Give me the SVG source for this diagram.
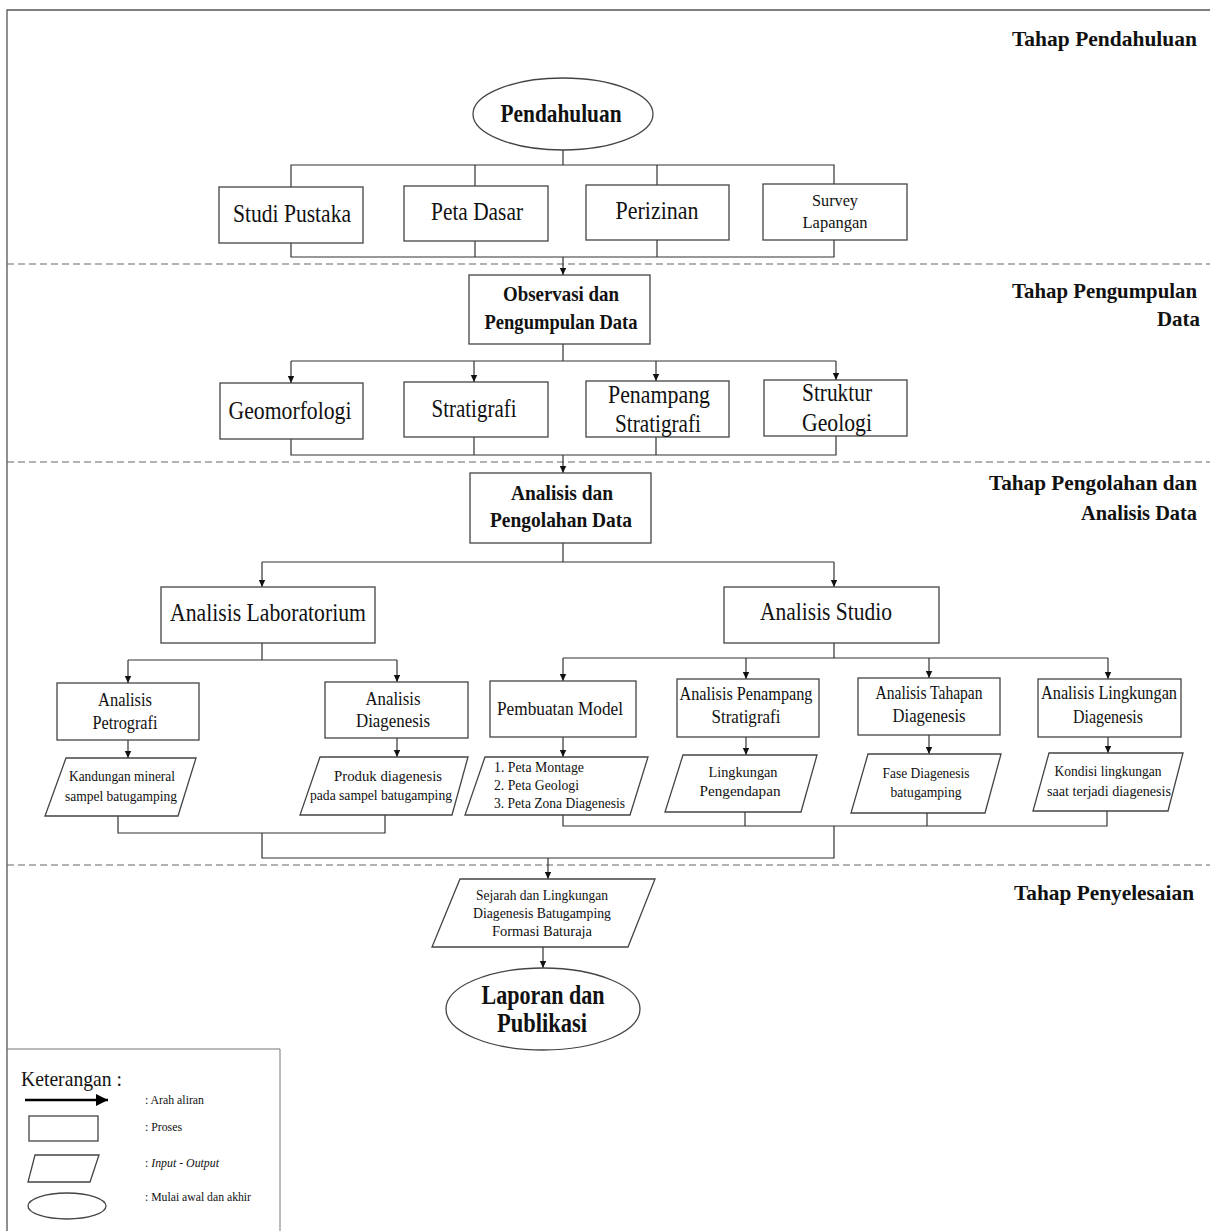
<svg xmlns="http://www.w3.org/2000/svg" width="1210" height="1231" viewBox="0 0 1210 1231">
<defs>
<style>
.bx{fill:#fff;stroke:#444;stroke-width:1.3}
.ln{fill:none;stroke:#333;stroke-width:1.2}
.ar{fill:none;stroke:#333;stroke-width:1.2;marker-end:url(#ah)}
.dash{fill:none;stroke:#666;stroke-width:1.2;stroke-dasharray:7 4}
text{font-family:"Liberation Serif","Times New Roman",serif;fill:#111;text-anchor:middle}
.b{font-weight:bold}
.st{font-weight:bold;font-size:22px;text-anchor:end}
.t24{font-size:25px}
.t19{font-size:19px}
.t17{font-size:17px}
.t14{font-size:14px}
.t12{font-size:12px;text-anchor:start}
</style>
<marker id="ah" markerWidth="8" markerHeight="8" refX="7" refY="4" orient="auto" markerUnits="userSpaceOnUse">
<path d="M0,0.8 L7,4 L0,7.2 Z" fill="#111"/>
</marker>
<marker id="ahL" markerWidth="14" markerHeight="14" refX="12" refY="7" orient="auto" markerUnits="userSpaceOnUse">
<path d="M0,1 L12,7 L0,13 Z" fill="#000"/>
</marker>
</defs>
<rect width="1210" height="1231" fill="#fff"/>
<!-- frame -->
<path d="M7,1231 V10 H1210" fill="none" stroke="#555" stroke-width="1.3"/>
<!-- dashed stage separators -->
<g id="separators">
<line class="dash" x1="7" y1="264" x2="1210" y2="264"/>
<line class="dash" x1="7" y1="462" x2="1210" y2="462"/>
<line class="dash" x1="7" y1="865" x2="1210" y2="865"/>
</g>
<!-- stage labels -->
<g id="stages">
<text class="st" x="1197" y="46" textLength="185" lengthAdjust="spacingAndGlyphs">Tahap Pendahuluan</text>
<text class="st" x="1197" y="298" textLength="185" lengthAdjust="spacingAndGlyphs">Tahap Pengumpulan</text>
<text class="st" x="1200" y="326" textLength="43" lengthAdjust="spacingAndGlyphs">Data</text>
<text class="st" x="1197" y="490" textLength="208" lengthAdjust="spacingAndGlyphs">Tahap Pengolahan dan</text>
<text class="st" x="1197" y="520" textLength="116" lengthAdjust="spacingAndGlyphs">Analisis Data</text>
<text class="st" x="1194" y="900" textLength="180" lengthAdjust="spacingAndGlyphs">Tahap Penyelesaian</text>
</g>
<!-- connectors -->
<g id="connectors">
<path class="ln" d="M563,150 V165 M291,187 V165 H834 V184 M475,165 V186 M657,165 V185"/>
<path class="ln" d="M291,243 V257 H834 V240 M475,241 V257 M657,240 V257"/>
<path class="ar" d="M563,257 V275"/>
<path class="ln" d="M563,344 V361 M291,361 H836"/>
<path class="ar" d="M291,361 V383"/>
<path class="ar" d="M474,361 V382"/>
<path class="ar" d="M656,361 V381"/>
<path class="ar" d="M836,361 V380"/>
<path class="ln" d="M291,439 V455 H836 V436 M474,437 V455 M656,437 V455"/>
<path class="ar" d="M563,455 V473"/>
<path class="ln" d="M563,543 V562 M262,562 H834"/>
<path class="ar" d="M262,562 V587"/>
<path class="ar" d="M834,562 V587"/>
<path class="ln" d="M262,643 V660 M128,660 H397"/>
<path class="ar" d="M128,660 V683"/>
<path class="ar" d="M397,660 V682"/>
<path class="ln" d="M834,643 V658 M563,658 H1108"/>
<path class="ar" d="M563,658 V681"/>
<path class="ar" d="M746,658 V679"/>
<path class="ar" d="M929,658 V678"/>
<path class="ar" d="M1108,658 V679"/>
<path class="ar" d="M128,740 V758"/>
<path class="ar" d="M397,738 V757"/>
<path class="ar" d="M563,737 V757"/>
<path class="ar" d="M746,737 V755"/>
<path class="ar" d="M929,735 V754"/>
<path class="ar" d="M1108,737 V753"/>
<path class="ln" d="M118,816 V833 H385 V815 M262,833 V858 H834 V826"/>
<path class="ln" d="M563,815 V826 H1107 V811 M745,812 V826 M927,813 V826"/>
<path class="ar" d="M548,858 V879"/>
<path class="ar" d="M543,947 V968"/>
</g>
<!-- nodes -->
<g id="pendahuluan">
<ellipse class="bx" cx="563" cy="114" rx="90" ry="36"/>
<text class="b" x="561" y="122" font-size="26" textLength="121" lengthAdjust="spacingAndGlyphs">Pendahuluan</text>
</g>
<g id="studi-pustaka">
<rect class="bx" x="219" y="187" width="144" height="56"/>
<text class="t24" x="292" y="222" textLength="118" lengthAdjust="spacingAndGlyphs">Studi Pustaka</text>
</g>
<g id="peta-dasar">
<rect class="bx" x="404" y="186" width="144" height="55"/>
<text class="t24" x="477" y="220" textLength="92" lengthAdjust="spacingAndGlyphs">Peta Dasar</text>
</g>
<g id="perizinan">
<rect class="bx" x="586" y="185" width="143" height="55"/>
<text class="t24" x="657" y="219" textLength="83" lengthAdjust="spacingAndGlyphs">Perizinan</text>
</g>
<g id="survey-lapangan">
<rect class="bx" x="763" y="184" width="144" height="56"/>
<text class="t17" x="835" y="206" textLength="46" lengthAdjust="spacingAndGlyphs">Survey</text>
<text class="t17" x="835" y="228" textLength="65" lengthAdjust="spacingAndGlyphs">Lapangan</text>
</g>
<g id="observasi">
<rect class="bx" x="469" y="275" width="181" height="69"/>
<text class="b" font-size="22" x="561" y="301" textLength="116" lengthAdjust="spacingAndGlyphs">Observasi dan</text>
<text class="b" font-size="22" x="561" y="329" textLength="153" lengthAdjust="spacingAndGlyphs">Pengumpulan Data</text>
</g>
<g id="geomorfologi">
<rect class="bx" x="220" y="383" width="143" height="56"/>
<text class="t24" x="290" y="419" textLength="123" lengthAdjust="spacingAndGlyphs">Geomorfologi</text>
</g>
<g id="stratigrafi">
<rect class="bx" x="404" y="382" width="144" height="55"/>
<text class="t24" x="474" y="417" textLength="85" lengthAdjust="spacingAndGlyphs">Stratigrafi</text>
</g>
<g id="penampang-stratigrafi">
<rect class="bx" x="586" y="381" width="143" height="56"/>
<text class="t24" x="659" y="403" textLength="102" lengthAdjust="spacingAndGlyphs">Penampang</text>
<text class="t24" x="658" y="432" textLength="86" lengthAdjust="spacingAndGlyphs">Stratigrafi</text>
</g>
<g id="struktur-geologi">
<rect class="bx" x="764" y="380" width="143" height="56"/>
<text class="t24" x="837" y="401" textLength="70" lengthAdjust="spacingAndGlyphs">Struktur</text>
<text class="t24" x="837" y="431" textLength="70" lengthAdjust="spacingAndGlyphs">Geologi</text>
</g>
<g id="analisis-pengolahan">
<rect class="bx" x="470" y="473" width="181" height="70"/>
<text class="b" font-size="22" x="562" y="500" textLength="102" lengthAdjust="spacingAndGlyphs">Analisis dan</text>
<text class="b" font-size="22" x="561" y="527" textLength="142" lengthAdjust="spacingAndGlyphs">Pengolahan Data</text>
</g>
<g id="analisis-laboratorium">
<rect class="bx" x="161" y="587" width="214" height="56"/>
<text class="t24" x="268" y="621" textLength="196" lengthAdjust="spacingAndGlyphs">Analisis Laboratorium</text>
</g>
<g id="analisis-studio">
<rect class="bx" x="724" y="587" width="215" height="56"/>
<text class="t24" x="826" y="620" textLength="132" lengthAdjust="spacingAndGlyphs">Analisis Studio</text>
</g>
<g id="analisis-petrografi">
<rect class="bx" x="57" y="683" width="142" height="57"/>
<text class="t19" x="125" y="706" textLength="54" lengthAdjust="spacingAndGlyphs">Analisis</text>
<text class="t19" x="125" y="729" textLength="65" lengthAdjust="spacingAndGlyphs">Petrografi</text>
</g>
<g id="analisis-diagenesis">
<rect class="bx" x="325" y="682" width="143" height="56"/>
<text class="t19" x="393" y="705" textLength="55" lengthAdjust="spacingAndGlyphs">Analisis</text>
<text class="t19" x="393" y="727" textLength="74" lengthAdjust="spacingAndGlyphs">Diagenesis</text>
</g>
<g id="pembuatan-model">
<rect class="bx" x="490" y="681" width="146" height="56"/>
<text class="t19" x="560" y="715" textLength="126" lengthAdjust="spacingAndGlyphs">Pembuatan Model</text>
</g>
<g id="analisis-penampang">
<rect class="bx" x="677" y="679" width="142" height="58"/>
<text class="t19" x="746" y="700" textLength="133" lengthAdjust="spacingAndGlyphs">Analisis Penampang</text>
<text class="t19" x="746" y="723" textLength="69" lengthAdjust="spacingAndGlyphs">Stratigrafi</text>
</g>
<g id="analisis-tahapan">
<rect class="bx" x="858" y="678" width="142" height="57"/>
<text class="t19" x="929" y="699" textLength="107" lengthAdjust="spacingAndGlyphs">Analisis Tahapan</text>
<text class="t19" x="929" y="722" textLength="73" lengthAdjust="spacingAndGlyphs">Diagenesis</text>
</g>
<g id="analisis-lingkungan">
<rect class="bx" x="1038" y="679" width="143" height="58"/>
<text class="t19" x="1109" y="699" textLength="136" lengthAdjust="spacingAndGlyphs">Analisis Lingkungan</text>
<text class="t19" x="1108" y="723" textLength="70" lengthAdjust="spacingAndGlyphs">Diagenesis</text>
</g>
<g id="kandungan-mineral">
<polygon class="bx" points="66,758 196,758 178,816 45,816"/>
<text class="t14" x="122" y="781" textLength="106" lengthAdjust="spacingAndGlyphs">Kandungan mineral</text>
<text class="t14" x="121" y="801" textLength="112" lengthAdjust="spacingAndGlyphs">sampel batugamping</text>
</g>
<g id="produk-diagenesis">
<polygon class="bx" points="320,757 468,757 452,815 300,815"/>
<text class="t14" x="388" y="781" textLength="108" lengthAdjust="spacingAndGlyphs">Produk diagenesis</text>
<text class="t14" x="381" y="800" textLength="142" lengthAdjust="spacingAndGlyphs">pada sampel batugamping</text>
</g>
<g id="peta-output">
<polygon class="bx" points="485,757 648,757 630,815 465,815"/>
<text class="t14" x="494" y="772" style="text-anchor:start" textLength="90" lengthAdjust="spacingAndGlyphs">1. Peta Montage</text>
<text class="t14" x="494" y="790" style="text-anchor:start" textLength="85" lengthAdjust="spacingAndGlyphs">2. Peta Geologi</text>
<text class="t14" x="494" y="808" style="text-anchor:start" textLength="131" lengthAdjust="spacingAndGlyphs">3. Peta Zona Diagenesis</text>
</g>
<g id="lingkungan-pengendapan">
<polygon class="bx" points="683,755 817,755 801,812 665,812"/>
<text class="t14" x="743" y="777" textLength="69" lengthAdjust="spacingAndGlyphs">Lingkungan</text>
<text class="t14" x="740" y="796" textLength="81" lengthAdjust="spacingAndGlyphs">Pengendapan</text>
</g>
<g id="fase-diagenesis">
<polygon class="bx" points="868,754 1001,754 985,813 851,813"/>
<text class="t14" x="926" y="778" textLength="87" lengthAdjust="spacingAndGlyphs">Fase Diagenesis</text>
<text class="t14" x="926" y="797" textLength="71" lengthAdjust="spacingAndGlyphs">batugamping</text>
</g>
<g id="kondisi-lingkungan">
<polygon class="bx" points="1049,753 1183,753 1168,811 1033,811"/>
<text class="t14" x="1108" y="776" textLength="107" lengthAdjust="spacingAndGlyphs">Kondisi lingkungan</text>
<text class="t14" x="1109" y="796" textLength="124" lengthAdjust="spacingAndGlyphs">saat terjadi diagenesis</text>
</g>
<g id="sejarah">
<polygon class="bx" points="460,879 655,879 628,947 432,947"/>
<text class="t14" x="542" y="900" textLength="132" lengthAdjust="spacingAndGlyphs">Sejarah dan Lingkungan</text>
<text class="t14" x="542" y="918" textLength="138" lengthAdjust="spacingAndGlyphs">Diagenesis Batugamping</text>
<text class="t14" x="542" y="936" textLength="100" lengthAdjust="spacingAndGlyphs">Formasi Baturaja</text>
</g>
<g id="laporan">
<ellipse class="bx" cx="543" cy="1009" rx="97" ry="41"/>
<text class="b" font-size="27" x="543" y="1004" textLength="123" lengthAdjust="spacingAndGlyphs">Laporan dan</text>
<text class="b" font-size="27" x="542" y="1032" textLength="90" lengthAdjust="spacingAndGlyphs">Publikasi</text>
</g>
<!-- legend -->
<g id="legend">
<path d="M7,1049 H280 V1231" fill="none" stroke="#777" stroke-width="1"/>
<text x="21" y="1086" font-size="22" style="text-anchor:start" textLength="101" lengthAdjust="spacingAndGlyphs">Keterangan :</text>
<line x1="25" y1="1100" x2="108" y2="1100" stroke="#000" stroke-width="2.5" marker-end="url(#ahL)"/>
<text class="t12" x="145" y="1104" textLength="59" lengthAdjust="spacingAndGlyphs">: Arah aliran</text>
<rect class="bx" x="29" y="1116" width="69" height="25"/>
<text class="t12" x="145" y="1131" textLength="37" lengthAdjust="spacingAndGlyphs">: Proses</text>
<polygon class="bx" points="35,1155 99,1155 90,1182 28,1182"/>
<text class="t12" x="145" y="1167" textLength="74" lengthAdjust="spacingAndGlyphs">: <tspan font-style="italic">Input - Output</tspan></text>
<ellipse class="bx" cx="67" cy="1206" rx="39" ry="13"/>
<text class="t12" x="145" y="1201" textLength="106" lengthAdjust="spacingAndGlyphs">: Mulai awal dan akhir</text>
</g>
</svg>
